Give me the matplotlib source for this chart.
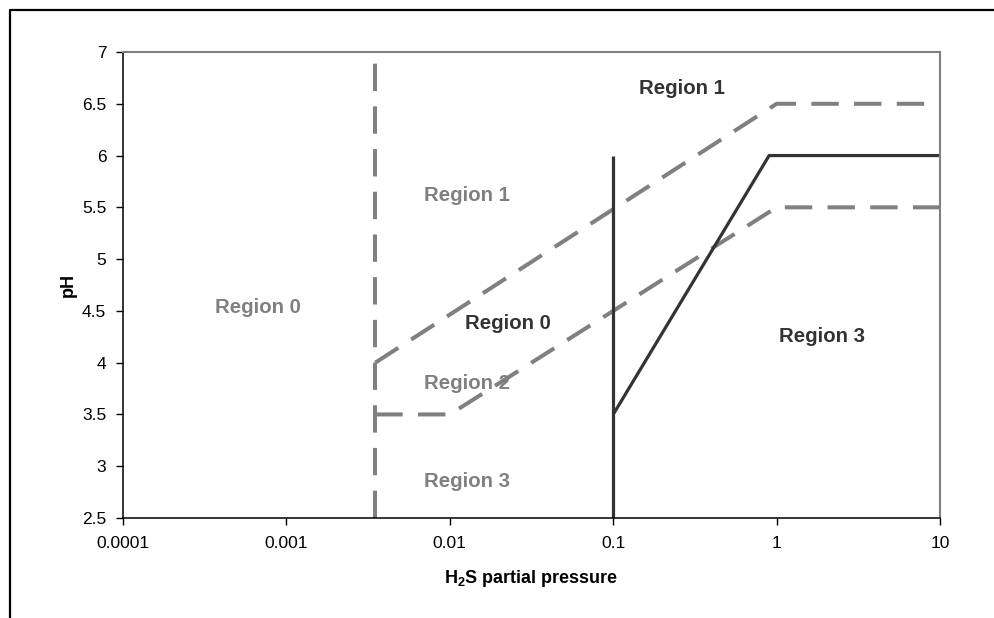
import matplotlib
matplotlib.use("Agg")
import matplotlib.pyplot as plt
from matplotlib.lines import Line2D
from matplotlib.ticker import FixedLocator, FuncFormatter

plt.rcParams['font.family'] = ['Liberation Sans', 'DejaVu Sans']
plt.rcParams['mathtext.fontset'] = 'custom'
plt.rcParams['mathtext.rm'] = 'Liberation Sans'
plt.rcParams['mathtext.bf'] = 'Liberation Sans:bold'

# Boundary lines (H2S partial pressure, pH)
vert_x = [0.0035, 0.0035]
vert_y = [2.5, 7.0]
upper_x = [0.0035, 1.0, 10.0]
upper_y = [4.0, 6.5, 6.5]
lower_x = [0.0035, 0.01, 1.0, 10.0]
lower_y = [3.5, 3.5, 5.5, 5.5]
solid_v_x = [0.1, 0.1]
solid_v_y = [6.0, 2.5]
solid_x = [0.1, 0.9, 10.0]
solid_y = [3.5, 6.0, 6.0]

x_ticks = [0.0001, 0.001, 0.01, 0.1, 1, 10]
x_tick_labels = ['0.0001', '0.001', '0.01', '0.1', '1', '10']
y_ticks = [2.5, 3, 3.5, 4, 4.5, 5, 5.5, 6, 6.5, 7]

gray_labels = ['Region 0', 'Region 1', 'Region 2', 'Region 3']
gray_label_x = [6.7e-4, 0.0127, 0.0127, 0.0127]
gray_label_y = [4.53, 5.61, 3.80, 2.85]
dark_labels = ['Region 0', 'Region 1', 'Region 3']
dark_label_x = [0.0227, 0.264, 1.90]
dark_label_y = [4.38, 6.65, 4.25]

GRAY = '#808080'
DARK = '#333333'

fig = plt.figure(figsize=(9.95, 6.18), dpi=100)
ax = fig.add_axes([123/995, 1-518/618, (940-123)/995, (518-52)/618])

dash = (0, (6.8, 3.8))
lw_d = 2.9
ax.plot(vert_x, vert_y, color=GRAY, lw=lw_d, linestyle=dash, dash_capstyle='butt', clip_on=False)
ax.plot(upper_x, upper_y, color=GRAY, lw=lw_d, linestyle=dash, dash_capstyle='butt')
ax.plot(lower_x, lower_y, color=GRAY, lw=lw_d, linestyle=dash, dash_capstyle='butt')
ax.plot(solid_v_x, solid_v_y, color=DARK, lw=2.3, solid_capstyle='butt', clip_on=False)
ax.plot(solid_x, solid_y, color=DARK, lw=2.3, solid_capstyle='butt')

for t, x, y in zip(gray_labels, gray_label_x, gray_label_y):
    ax.text(x, y, t, color=GRAY, fontsize=14.7, fontweight='bold', ha='center', va='center')
for t, x, y in zip(dark_labels, dark_label_x, dark_label_y):
    ax.text(x, y, t, color=DARK, fontsize=14.7, fontweight='bold', ha='center', va='center')

ax.set_xscale('log')
ax.set_xlim(1e-4, 10)
ax.set_ylim(2.5, 7)
ax.xaxis.set_major_locator(FixedLocator(x_ticks))
ax.xaxis.set_minor_locator(FixedLocator([]))
ax.set_xticklabels(x_tick_labels)
ax.yaxis.set_major_locator(FixedLocator(y_ticks))
ax.yaxis.set_major_formatter(FuncFormatter(lambda v, p: f'{v:g}'))
ax.tick_params(axis='both', direction='out', length=5, width=1, labelsize=12.5, color='black')
ax.tick_params(axis='y', pad=7)
ax.tick_params(axis='x', pad=8)

for s in ['left', 'bottom']:
    ax.spines[s].set_color('black')
    ax.spines[s].set_linewidth(1.1)
for s in ['top', 'right']:
    ax.spines[s].set_color(GRAY)
    ax.spines[s].set_linewidth(1.5)

ax.set_xlabel(r'H$_\mathbf{2}$S partial pressure', fontsize=13, fontweight='bold', labelpad=12)
ax.set_ylabel('pH', fontsize=13, fontweight='bold', labelpad=3.5)

# figure border (extends past right and bottom edges)
fig.add_artist(Line2D([10/995, 10/995, 1.01], [-0.01, 1-10/618, 1-10/618],
                      transform=fig.transFigure, color='black', lw=1.6))

fig.savefig('out.png', dpi=100)
